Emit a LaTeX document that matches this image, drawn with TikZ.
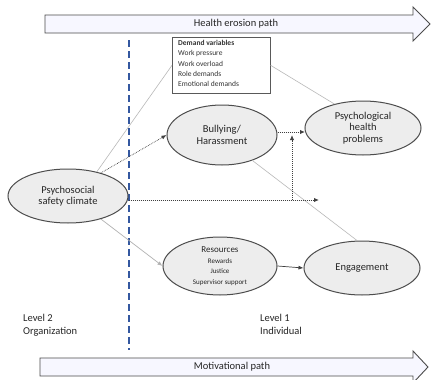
\documentclass[tikz,border=0pt]{standalone}
\usepackage{fontspec}
\setmainfont{Carlito}
\usetikzlibrary{shapes.geometric,arrows.meta}
\definecolor{sepblue}{RGB}{52,88,160}
\begin{document}
\begin{tikzpicture}[x=1pt,y=-1pt,
  oval/.style={ellipse,draw=gray!60!black,line width=1pt,fill=gray!14,inner sep=0pt,align=center,
    text=black!85,font=\fontsize{10.5}{11.5}\selectfont},
  pathbar/.style={draw=gray!60!black,line width=0.9pt,fill=blue!3},
  barlabel/.style={font=\fontsize{10.5}{12}\selectfont,text=black!85},
  lightcon/.style={draw=gray!55,line width=0.6pt},
  solidarr/.style={draw=black!75,line width=0.7pt,-{Latex[length=5pt,width=4pt]}},
  dotarr/.style={draw=black!75,densely dotted,line width=1pt,-{Latex[length=5pt,width=4.5pt]}},
  levellabel/.style={align=left,anchor=north west,inner sep=0pt,font=\fontsize{10.5}{13}\selectfont,text=black!85}]
\useasboundingbox (0,0) rectangle (432,380);
\fill[white] (0,0) rectangle (432,380);

% path arrows
\path[pathbar] (45,15) -- (413,15) -- (413,7) -- (430,24) -- (413,41) -- (413,33) -- (45,33) -- cycle;
\node[barlabel] (health) at (236,24) {Health erosion path};
\path[pathbar] (40,358) -- (413,358) -- (413,351) -- (428,367) -- (413,383) -- (413,376) -- (40,376) -- cycle;
\node[barlabel] (motiv) at (232,367) {Motivational path};

% level separator
\coordinate (sepTop) at (129,40);
\coordinate (sepBot) at (129,350);
\draw[draw=sepblue,line width=1.1pt,dash pattern=on 7pt off 4pt] (sepTop) -- (sepBot);

% demand box
\node[draw=gray!70!black,line width=0.6pt,fill=white,minimum width=98pt,minimum height=56pt,
  anchor=north west,inner sep=0pt] (demand) at (172,37) {};
\node[anchor=north west,align=left,inner sep=0pt,font=\fontsize{7.5}{10.3}\selectfont,text=black!80]
  (demandtext) at (178,40) {\textbf{Demand variables}\\Work pressure\\Work overload\\Role demands\\Emotional demands};

% ellipses
\node[oval,minimum width=120pt,minimum height=54pt] (psc) at (68,196) {Psychosocial\\safety climate};
\node[oval,minimum width=110pt,minimum height=60pt] (bully) at (222,135) {Bullying/\\Harassment};
\node[oval,minimum width=116pt,minimum height=54pt] (php) at (363,128) {Psychological\\health\\problems};
\node[oval,minimum width=114pt,minimum height=58pt] (res) at (220,266)
  {{\fontsize{9}{9.5}\selectfont Resources}\\[-1pt]{\fontsize{7}{8.5}\selectfont Rewards}\\[-1pt]{\fontsize{7}{8.5}\selectfont Justice}\\[-1pt]{\fontsize{7}{8.5}\selectfont Supervisor support}};
\node[oval,minimum width=116pt,minimum height=54pt] (eng) at (362,268) {Engagement};

% connectors
\draw[lightcon] (psc.40) -- (demand.west);
\draw[lightcon] (demand.east) -- (php.140);
\draw[lightcon] (bully.-40) -- (eng.100);
\draw[solidarr,densely dotted] (psc.35) -- (bully.west);
\draw[solidarr,draw=gray!60] (psc.-35) -- (res.west);
\draw[solidarr] (res.east) -- (eng.west);
\coordinate (bullyR) at (277,132);
\coordinate (phpL) at (305,132);
\draw[dotarr] (bully.east |- bullyR) -- (phpL);
\coordinate (dotEnd) at (319,200);
\coordinate (modBase) at (292,200);
\coordinate (modTip) at (292,135);
\draw[dotarr] (psc.east |- dotEnd) -- (dotEnd);
\draw[dotarr] (modBase) -- (modTip);

% level labels
\node[levellabel] (lvl2) at (23,314) {Level 2\\Organization};
\node[levellabel] (lvl1) at (260,314) {Level 1\\Individual};
\end{tikzpicture}
\end{document}
